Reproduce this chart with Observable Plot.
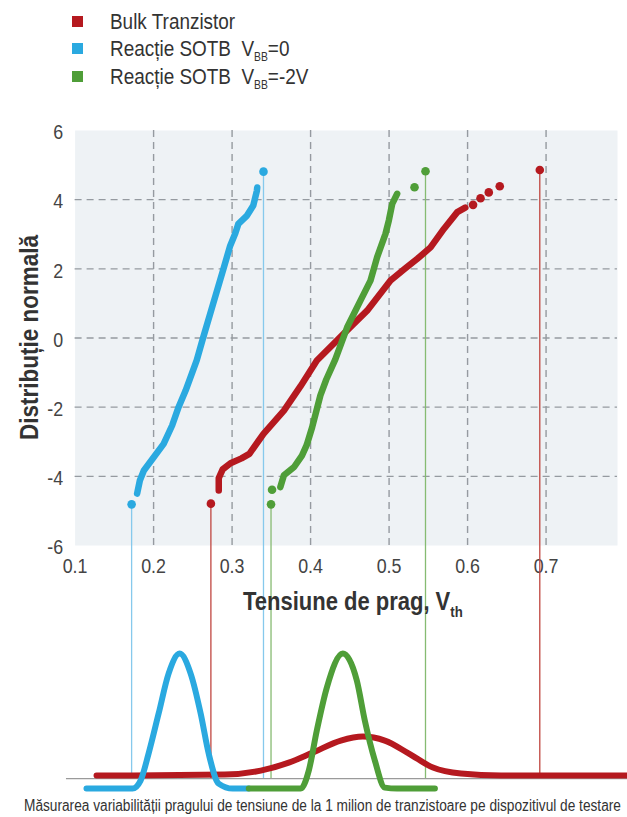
<!DOCTYPE html>
<html><head><meta charset="utf-8">
<script src="https://cdn.jsdelivr.net/npm/d3@7"></script>
<script src="https://cdn.jsdelivr.net/npm/@observablehq/plot@0.6"></script>
<style>
html,body{margin:0;padding:0;background:#fff;overflow:hidden;width:627px;height:817px;}
body{position:relative;font-family:"Liberation Sans",Arial,sans-serif;color:#333;}
#legend{position:relative;height:100px;}
.item{position:absolute;left:72px;height:26px;font-size:22px;line-height:26px;white-space:nowrap}
.sw{position:absolute;left:0;top:7px;width:11px;height:11px}
.lab{position:absolute;left:38px;top:0;display:inline-block;transform:scaleX(0.86);transform-origin:0 50%}
sub{font-size:12px;vertical-align:-5px;line-height:0}
#chart svg{display:block;overflow:hidden}
#caption{position:absolute;left:24px;top:797px;font-size:16px;line-height:18px;white-space:nowrap;color:#333;transform:scaleX(0.855);transform-origin:0 50%}
</style></head>
<body>
<div id="legend"></div>
<div id="chart"></div>
<div id="caption"></div>
<script>
// ---- data ----
const seriesNames = ["Bulk Tranzistor", "Reacție SOTB", "Reacție SOTB"];
const seriesSubs = ["", "=0", "=-2V"];
const colors = ["#b5191f", "#2aa9e0", "#4f9e38"];
const lightColors = ["#c0453f", "#86c9ec", "#86bb72"];

const xTicks = [0.1, 0.2, 0.3, 0.4, 0.5, 0.6, 0.7];
const xTickLabels = ["0.1", "0.2", "0.3", "0.4", "0.5", "0.6", "0.7"];
const yTicks = [6, 4, 2, 0, -2, -4, -6];
const yTickLabels = ["6", "4", "2", "0", "-2", "-4", "-6"];
const xGrid = [0.2, 0.3, 0.4, 0.5, 0.6, 0.7];
const yGrid = [4, 2, 0, -2, -4];

// normal-probability (Q-Q) curves: [Vth, z]
const redCurve = [[0.283,-4.41],[0.283,-4.05],[0.288,-3.8],[0.298,-3.62],[0.312,-3.48],[0.322,-3.35],[0.340,-2.77],[0.366,-2.1],[0.387,-1.4],[0.408,-0.65],[0.4487,0.27],[0.472,0.79],[0.5018,1.66],[0.520,2.0],[0.536,2.29],[0.5528,2.62],[0.570,3.16],[0.5869,3.64],[0.597,3.77]];
const redDots = [[0.607,3.85],[0.6165,4.04],[0.627,4.21],[0.641,4.39]];
const redOut = [[0.273,-4.79],[0.692,4.86]];

const blueCurve = [[0.179,-4.5],[0.1825,-4.12],[0.1876,-3.83],[0.2004,-3.44],[0.2128,-3.06],[0.2236,-2.53],[0.2318,-2.0],[0.2408,-1.52],[0.2549,-0.65],[0.263,0],[0.276,1.0],[0.289,2.0],[0.2976,2.67],[0.304,3.02],[0.308,3.3],[0.319,3.54],[0.327,3.83],[0.3316,4.26],[0.332,4.35]];
const blueOut = [[0.172,-4.81],[0.340,4.81]];

const greenCurve = [[0.3615,-4.31],[0.366,-3.97],[0.379,-3.73],[0.389,-3.4],[0.395,-3.1],[0.402,-2.58],[0.4125,-1.66],[0.420,-1.2],[0.4315,-0.62],[0.4466,0.31],[0.4635,1.08],[0.4763,1.66],[0.4848,2.34],[0.4954,3.01],[0.4997,3.40],[0.504,3.88],[0.5103,4.17]];
const greenDots = [[0.3509,-4.39],[0.5324,4.36]];
const greenOut = [[0.3496,-4.81],[0.5464,4.82]];

// distributions below: [Vth, relative density]
const redDens = [[0.1273,0.024],[0.2906,0.032],[0.3365,0.064],[0.3722,0.128],[0.4028,0.208],[0.4385,0.304],[0.4666,0.336],[0.4946,0.304],[0.5253,0.2],[0.5559,0.088],[0.5916,0.04],[0.6426,0.024],[0.8046,0.024]];
const blueDens = [[0.1145,-0.08],[0.1732,-0.08],[0.1834,-0.016],[0.1936,0.2],[0.2064,0.52],[0.2191,0.84],[0.2332,1.0],[0.2472,0.84],[0.2600,0.52],[0.2702,0.2],[0.2829,-0.04],[0.3008,-0.08],[0.3212,-0.08]];
const greenDens = [[0.3212,-0.08],[0.3875,-0.08],[0.3977,0.064],[0.4079,0.384],[0.4207,0.728],[0.4411,1.0],[0.4589,0.784],[0.4691,0.464],[0.4819,0.144],[0.4946,-0.072],[0.51,-0.08],[0.5584,-0.08]];
const baseLine = [0.089, 0.8046];

const xTitle = "Tensiune de prag, V";
const xTitleSub = "th";
const yTitle = "Distribuție normală";
const caption = "Măsurarea variabilității pragului de tensiune de la 1 milion de tranzistoare pe dispozitivul de testare";

// ---- legend ----
const legend = document.getElementById("legend");
const tops = [9, 36, 64];
seriesNames.forEach((n, i) => {
  const it = document.createElement("div");
  it.className = "item";
  it.style.top = tops[i] + "px";
  it.innerHTML = `<div class="sw" style="background:${colors[i]}"></div><div class="lab">${n}${i ? `&nbsp;&nbsp;V<sub>BB</sub>${seriesSubs[i]}` : ""}</div>`;
  legend.appendChild(it);
});
document.getElementById("caption").textContent = caption;

// ---- chart ----
const BASE_Z = -12.74;   // baseline of distributions in y units
const DENS_Z = 3.614;    // y units per density unit
const dz = d => BASE_Z + d[1] * DENS_Z;
const gridStyle = {stroke: "#959aa0", strokeWidth: 1.4, strokeDasharray: "7,5"};
const font = '"Liberation Sans",Arial,sans-serif';

const plot = Plot.plot({
  width: 627, height: 695,
  marginLeft: 74.6, marginRight: 10, marginTop: 30, marginBottom: 250,
  style: {fontFamily: font, background: "transparent", overflow: "hidden"},
  x: {domain: [0.1, 0.791], axis: null},
  y: {domain: [-6, 6], axis: null},
  marks: [
    Plot.frame({fill: "#eef2f5", stroke: null}),
    Plot.ruleX(xGrid, gridStyle),
    Plot.ruleY(yGrid, gridStyle),
    Plot.text(yTicks, {x: () => 0.1, y: d => d, dx: -12, dy: 2, text: (d, i) => yTickLabels[i], textAnchor: "end", fontSize: 21, fill: "#444"}),
    Plot.text(xTicks, {x: d => d, y: () => -6, dy: 21, text: (d, i) => xTickLabels[i], fontSize: 21, fill: "#444"}),
    // connectors
    Plot.ruleX(redOut, {x: d => d[0], y1: d => d[1], y2: () => BASE_Z, stroke: lightColors[0], strokeWidth: 1.3}),
    Plot.ruleX(blueOut, {x: d => d[0], y1: d => d[1], y2: () => BASE_Z, stroke: lightColors[1], strokeWidth: 1.3}),
    Plot.ruleX(greenOut, {x: d => d[0], y1: d => d[1], y2: () => BASE_Z, stroke: lightColors[2], strokeWidth: 1.3}),
    // Q-Q curves
    Plot.line(blueCurve, {x: d => d[0], y: d => d[1], stroke: colors[1], strokeWidth: 6.5, strokeLinecap: "round", strokeLinejoin: "round"}),
    Plot.line(redCurve, {x: d => d[0], y: d => d[1], stroke: colors[0], strokeWidth: 6.5, strokeLinecap: "round", strokeLinejoin: "round"}),
    Plot.line(greenCurve, {x: d => d[0], y: d => d[1], stroke: colors[2], strokeWidth: 6.5, strokeLinecap: "round", strokeLinejoin: "round"}),
    Plot.dot(redDots.concat(redOut), {x: d => d[0], y: d => d[1], r: 4.3, fill: colors[0]}),
    Plot.dot(blueOut, {x: d => d[0], y: d => d[1], r: 4.3, fill: colors[1]}),
    Plot.dot(greenDots.concat(greenOut), {x: d => d[0], y: d => d[1], r: 4.3, fill: colors[2]}),
    // distributions
    Plot.ruleY([BASE_Z], {x1: () => baseLine[0], x2: () => baseLine[1], stroke: "#9a9a9a", strokeWidth: 1.2}),
    Plot.line(redDens, {x: d => d[0], y: dz, stroke: colors[0], strokeWidth: 6, curve: "monotone-x", strokeLinecap: "round"}),
    Plot.line(blueDens, {x: d => d[0], y: dz, stroke: colors[1], strokeWidth: 6, curve: "monotone-x", strokeLinecap: "round"}),
    Plot.line(greenDens, {x: d => d[0], y: dz, stroke: colors[2], strokeWidth: 6, curve: "monotone-x", strokeLinecap: "round"})
  ]
});
document.getElementById("chart").appendChild(plot);

const svg = d3.select(plot);
// condensed look for tick labels
svg.selectAll("text").each(function() {
  const t = this.getAttribute("transform");
  if (t) this.setAttribute("transform", t + " scale(0.85,1)");
});
// axis titles
const xt = svg.append("text").attr("transform", "translate(243,510) scale(0.88,1)")
  .attr("text-anchor", "start")
  .attr("font-size", 25).attr("font-weight", "bold").attr("fill", "#333");
xt.append("tspan").text(xTitle);
xt.append("tspan").attr("font-size", 15).attr("dy", 7).text(xTitleSub);
svg.append("text").attr("transform", "translate(29,237.5) rotate(-90) scale(0.9,1)")
  .attr("text-anchor", "middle").attr("dy", "0.35em")
  .attr("font-size", 25).attr("font-weight", "bold").attr("fill", "#333").text(yTitle);
</script>
</body></html>
